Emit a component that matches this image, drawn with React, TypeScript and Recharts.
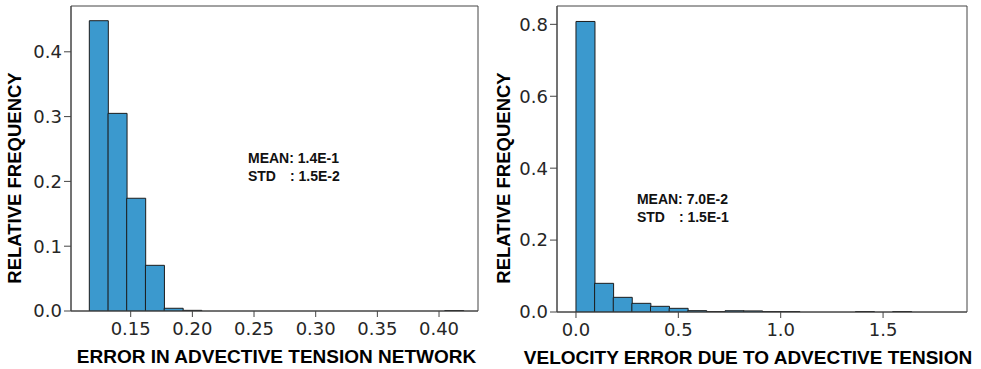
import React from 'react';
import { ComposedChart, Bar, XAxis, YAxis, ReferenceArea, ReferenceDot } from 'recharts';

// Left histogram: error in advective tension network
const leftBinCenters = [
  0.124, 0.1392, 0.1543, 0.1695, 0.1847, 0.1998, 0.215, 0.2302, 0.2453, 0.2605,
  0.2757, 0.2909, 0.306, 0.3212, 0.3364, 0.3515, 0.3667, 0.3819, 0.397, 0.4122,
];
const leftFrequencies = [
  0.448, 0.305, 0.174, 0.0705, 0.0042, 0.001, 0, 0, 0, 0,
  0, 0, 0, 0, 0, 0, 0, 0, 0, 0.0006,
];
const leftXTicks = [0.15, 0.2, 0.25, 0.3, 0.35, 0.4];
const leftYTicks = [0, 0.1, 0.2, 0.3, 0.4];
const leftXDomain = [0.1016, 0.4316];
const leftYDomain = [0, 0.4707];
const leftTitleX = 'ERROR IN ADVECTIVE TENSION NETWORK';
const leftMean = 'MEAN: 1.4E-1';
const leftStd = ': 1.5E-2';
const leftStatsPos = { x: 0.2451, y: 0.228 };

// Right histogram: velocity error due to advective tension
const rightBinCenters = [
  0.0455, 0.1365, 0.2275, 0.3185, 0.4095, 0.5005, 0.5915, 0.6825, 0.7735, 0.8645,
  0.9555, 1.0465, 1.1375, 1.2285, 1.3195, 1.4105, 1.5015, 1.5925, 1.6835, 1.7745,
];
const rightFrequencies = [
  0.808, 0.0797, 0.0408, 0.0241, 0.0158, 0.0102, 0.0037, 0.001, 0.0035, 0.003,
  0.001, 0.001, 0, 0, 0, 0.001, 0, 0.001, 0, 0,
];
const rightXTicks = [0, 0.5, 1.0, 1.5];
const rightYTicks = [0, 0.2, 0.4, 0.6, 0.8];
const rightXDomain = [-0.0927, 1.91];
const rightYDomain = [0, 0.851];
const rightTitleX = 'VELOCITY ERROR DUE TO ADVECTIVE TENSION';
const rightMean = 'MEAN: 7.0E-2';
const rightStd = ': 1.5E-1';
const rightStatsPos = { x: 0.2976, y: 0.3014 };

const yTitle = 'RELATIVE FREQUENCY';

const BAR_FILL = '#3B99CE';
const BAR_STROKE = '#1c1c1c';
const FRAME = '#444444';
const TICK_FONT = { fontFamily: 'DejaVu Sans', fontSize: 18, fill: '#262626' };
const TITLE_FONT = 'Liberation Sans, Arial, sans-serif';

type PanelProps = {
  left: number;
  width: number;
  margin: { top: number; right: number; left: number; bottom: number };
  yAxisWidth: number;
  xAxisHeight: number;
  centers: number[];
  freqs: number[];
  xTicks: number[];
  yTicks: number[];
  xDomain: number[];
  yDomain: number[];
  xDigits: number;
  xTitle: string;
  xTitleDx: number;
  yTitleX: number;
  mean: string;
  std: string;
  statsPos: { x: number; y: number };
};

const StatsLabel = (props: any) => {
  const { viewBox, mean, std } = props;
  const x = viewBox.x;
  const y = viewBox.y;
  const style = { fontFamily: TITLE_FONT, fontWeight: 700, fontSize: 14, fill: '#111' };
  return (
    <g>
      <text x={x} y={y} style={style}>{mean}</text>
      <text x={x} y={y + 18} style={style}>STD</text>
      <text x={x + 42} y={y + 18} style={style}>{std}</text>
    </g>
  );
};

const XTitle = (props: any) => {
  const { viewBox, title, shift } = props;
  return (
    <text
      x={viewBox.x + viewBox.width / 2 + shift}
      y={viewBox.y + 52}
      textAnchor="middle"
      style={{ fontFamily: TITLE_FONT, fontWeight: 700, fontSize: 19, fill: '#000' }}
    >
      {title}
    </text>
  );
};

const YTitle = (props: any) => {
  const { title, posX } = props;
  const y = 178;
  return (
    <text
      x={posX}
      y={y}
      textAnchor="middle"
      dominantBaseline="central"
      transform={`rotate(-90, ${posX}, ${y})`}
      style={{ fontFamily: TITLE_FONT, fontWeight: 700, fontSize: 18.5, fill: '#000' }}
    >
      {title}
    </text>
  );
};

const Panel = (p: PanelProps) => {
  const data = p.centers.map((c, i) => ({ x: c, freq: p.freqs[i] }));
  return (
    <div style={{ position: 'absolute', left: p.left, top: 0 }}>
      <ComposedChart width={p.width} height={369} data={data} margin={p.margin} barCategoryGap={0} barGap={0}>
        <XAxis
          dataKey="x"
          type="number"
          domain={p.xDomain}
          allowDataOverflow
          ticks={p.xTicks}
          tickFormatter={(v: number) => v.toFixed(p.xDigits)}
          tick={TICK_FONT}
          tickSize={6}
          tickMargin={5}
          tickLine={{ stroke: FRAME }}
          axisLine={{ stroke: FRAME }}
          height={p.xAxisHeight}
          interval={0}
          label={<XTitle title={p.xTitle} shift={p.xTitleDx} />}
        />
        <YAxis
          type="number"
          domain={p.yDomain}
          allowDataOverflow
          ticks={p.yTicks}
          tickFormatter={(v: number) => v.toFixed(1)}
          tick={TICK_FONT}
          tickSize={7}
          tickMargin={2}
          tickLine={{ stroke: FRAME }}
          axisLine={{ stroke: FRAME }}
          width={p.yAxisWidth}
          interval={0}
          label={<YTitle title={yTitle} posX={p.yTitleX} />}
        />
        <ReferenceArea
          x1={p.xDomain[0]}
          x2={p.xDomain[1]}
          y1={p.yDomain[0]}
          y2={p.yDomain[1]}
          fill="none"
          fillOpacity={0}
          stroke={FRAME}
          strokeWidth={1}
        />
        <Bar dataKey="freq" fill={BAR_FILL} stroke={BAR_STROKE} strokeWidth={1} isAnimationActive={false} />
        <ReferenceDot
          x={p.statsPos.x}
          y={p.statsPos.y}
          r={0}
          fill="none"
          stroke="none"
          label={<StatsLabel mean={p.mean} std={p.std} />}
        />
      </ComposedChart>
    </div>
  );
};

export default function App() {
  return (
    <div style={{ position: 'absolute', left: 0, top: 0, width: 981, height: 369, background: '#fff' }}>
      <Panel
        left={0}
        width={490}
        margin={{ top: 6, right: 12, left: 0, bottom: 0 }}
        yAxisWidth={71}
        xAxisHeight={58}
        centers={leftBinCenters}
        freqs={leftFrequencies}
        xTicks={leftXTicks}
        yTicks={leftYTicks}
        xDomain={leftXDomain}
        yDomain={leftYDomain}
        xDigits={2}
        xTitle={leftTitleX}
        xTitleDx={2}
        yTitleX={14}
        mean={leftMean}
        std={leftStd}
        statsPos={leftStatsPos}
      />
      <Panel
        left={490}
        width={491}
        margin={{ top: 6, right: 14, left: 0, bottom: 0 }}
        yAxisWidth={67}
        xAxisHeight={57}
        centers={rightBinCenters}
        freqs={rightFrequencies}
        xTicks={rightXTicks}
        yTicks={rightYTicks}
        xDomain={rightXDomain}
        yDomain={rightYDomain}
        xDigits={1}
        xTitle={rightTitleX}
        xTitleDx={-14}
        yTitleX={13}
        mean={rightMean}
        std={rightStd}
        statsPos={rightStatsPos}
      />
    </div>
  );
}
